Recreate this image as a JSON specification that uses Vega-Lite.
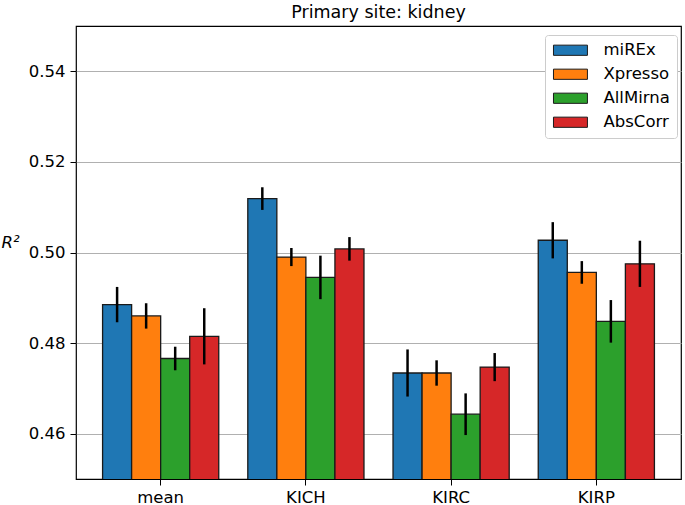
{
  "$schema": "https://vega.github.io/schema/vega-lite/v6.json",
  "autosize": {"type": "none"},
  "width": 605,
  "height": 453,
  "padding": {"left": 76, "top": 26, "right": 4, "bottom": 26},
  "title": {"text": "Primary site: kidney", "fontSize": 17.5, "font": "DejaVu Sans", "fontWeight": "normal", "color": "#000", "offset": 5},
  "data": {"values": [
    {"site": "mean", "method": "miREx", "value": 0.4885, "lo": 0.4846, "hi": 0.4924},
    {"site": "mean", "method": "Xpresso", "value": 0.4860, "lo": 0.4832, "hi": 0.4888},
    {"site": "mean", "method": "AllMirna", "value": 0.4766, "lo": 0.4740, "hi": 0.4792},
    {"site": "mean", "method": "AbsCorr", "value": 0.4815, "lo": 0.4753, "hi": 0.4877},
    {"site": "KICH", "method": "miREx", "value": 0.5119, "lo": 0.5094, "hi": 0.5144},
    {"site": "KICH", "method": "Xpresso", "value": 0.4990, "lo": 0.4970, "hi": 0.5010},
    {"site": "KICH", "method": "AllMirna", "value": 0.4945, "lo": 0.4897, "hi": 0.4993},
    {"site": "KICH", "method": "AbsCorr", "value": 0.5008, "lo": 0.4982, "hi": 0.5034},
    {"site": "KIRC", "method": "miREx", "value": 0.4734, "lo": 0.4682, "hi": 0.4786},
    {"site": "KIRC", "method": "Xpresso", "value": 0.4734, "lo": 0.4706, "hi": 0.4762},
    {"site": "KIRC", "method": "AllMirna", "value": 0.4643, "lo": 0.4597, "hi": 0.4689},
    {"site": "KIRC", "method": "AbsCorr", "value": 0.4747, "lo": 0.4716, "hi": 0.4778},
    {"site": "KIRP", "method": "miREx", "value": 0.5027, "lo": 0.4987, "hi": 0.5067},
    {"site": "KIRP", "method": "Xpresso", "value": 0.4956, "lo": 0.4931, "hi": 0.4981},
    {"site": "KIRP", "method": "AllMirna", "value": 0.4848, "lo": 0.4801, "hi": 0.4895},
    {"site": "KIRP", "method": "AbsCorr", "value": 0.4975, "lo": 0.4924, "hi": 0.5026}
  ]},
  "encoding": {
    "x": {"field": "site", "type": "nominal", "sort": ["mean", "KICH", "KIRC", "KIRP"],
      "scale": {"paddingInner": 0.2, "paddingOuter": 0.183},
      "axis": {"title": null, "labelAngle": 0, "labelFontSize": 16.5, "labelFont": "DejaVu Sans", "labelColor": "#000", "tickColor": "#000", "tickSize": 6, "labelPadding": 4, "domain": false, "grid": false}},
    "xOffset": {"field": "method", "type": "nominal", "sort": ["miREx", "Xpresso", "AllMirna", "AbsCorr"], "scale": {"paddingInner": 0, "paddingOuter": 0}}
  },
  "layer": [
    {
      "mark": {"type": "bar", "clip": true, "stroke": "#1a1a1a", "strokeWidth": 1.3},
      "encoding": {
        "y": {"field": "value", "type": "quantitative",
          "scale": {"domain": [0.45, 0.55], "zero": false, "nice": false},
          "axis": {"values": [0.46, 0.48, 0.5, 0.52, 0.54], "format": ".2f", "title": "R²", "titleAngle": 0, "titleFontStyle": "italic", "titleFontWeight": "normal", "titleFontSize": 16.5, "titleFont": "DejaVu Sans", "titleColor": "#000", "titleX": -66, "titleY": 216, "titleAlign": "center", "titleBaseline": "middle",
            "labelFontSize": 16.5, "labelFont": "DejaVu Sans", "labelColor": "#000", "tickColor": "#000", "tickSize": 6, "labelPadding": 5, "domain": false, "grid": true, "gridColor": "#b0b0b0", "gridWidth": 1}},
        "fill": {"field": "method", "type": "nominal", "sort": ["miREx", "Xpresso", "AllMirna", "AbsCorr"],
          "scale": {"domain": ["miREx", "Xpresso", "AllMirna", "AbsCorr"], "range": ["#1f77b4", "#ff7f0e", "#2ca02c", "#d62728"]},
          "legend": {"title": null, "orient": "none", "legendX": 469, "legendY": 9,
            "symbolType": "M-1.13,-0.85H4.53V0.85H-1.13Z", "symbolSize": 144, "symbolStrokeColor": "#1a1a1a", "symbolStrokeWidth": 1, "symbolOpacity": 1,
            "labelFontSize": 16.5, "labelFont": "DejaVu Sans", "labelColor": "#000", "labelOffset": 35, "rowPadding": 7, "padding": 7,
            "strokeColor": "#cccccc", "fillColor": "#ffffff", "cornerRadius": 3}}
      }
    },
    {
      "mark": {"type": "rule", "color": "#000", "strokeWidth": 2.5},
      "encoding": {
        "y": {"field": "lo", "type": "quantitative"},
        "y2": {"field": "hi"}
      }
    }
  ],
  "config": {
    "view": {"stroke": "#000", "strokeWidth": 1.2},
    "font": "DejaVu Sans"
  }
}
